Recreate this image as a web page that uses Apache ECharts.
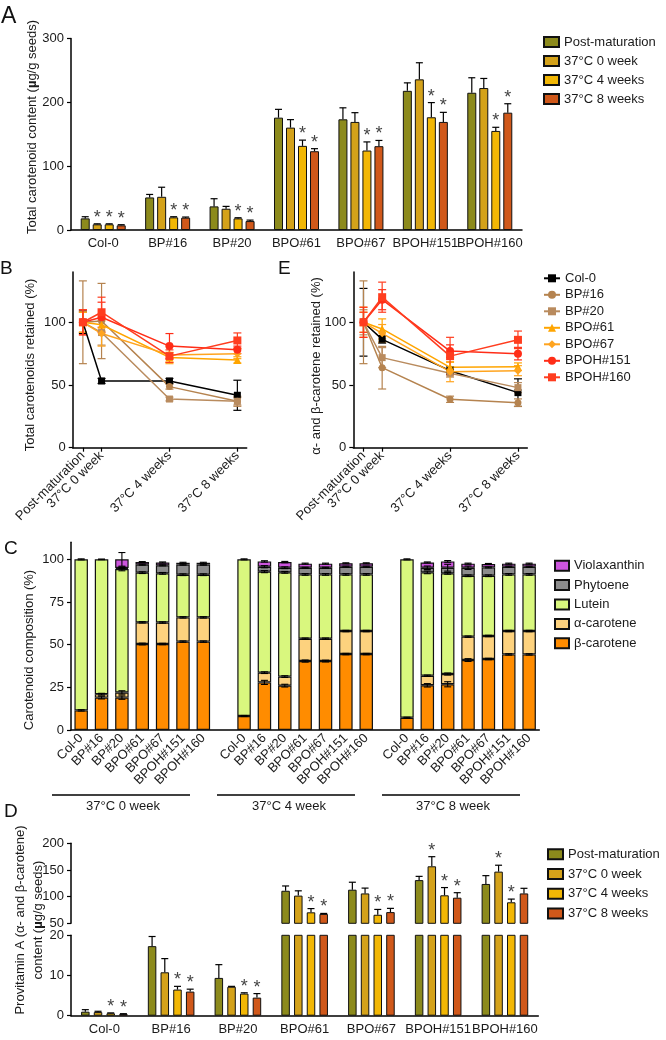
<!DOCTYPE html>
<html><head><meta charset="utf-8">
<script src="https://cdn.jsdelivr.net/npm/echarts@6/dist/echarts.min.js"></script>
<style>html,body{margin:0;padding:0;background:#fff}#c{width:666px;height:1040px}</style>
</head><body><div id="c"></div>
<script>
const FONT = '"Liberation Sans", Arial, Helvetica, sans-serif';

// ---------- shared categories ----------
const genotypes = ['Col-0','BP#16','BP#20','BPO#61','BPO#67','BPOH#151','BPOH#160'];
const conditions = ['Post-maturation','37°C 0 week','37°C 4 weeks','37°C 8 weeks'];
const condColors = ['#8c8a1c','#d4a21a','#f2b705','#d0581a'];

// ---------- Panel A: total carotenoid content (µg/g seeds), rows = conditions ----------
const totalContent = [
  [18.2, 51, 37, 176, 173.4, 218, 215],
  [8.9, 52, 33.3, 160.4, 169.3, 236, 222.4],
  [8.9, 19.8, 18.2, 131.8, 124.5, 176.6, 155.2],
  [7.3, 19.3, 14, 123.4, 131.3, 169.3, 183.8]
];
const totalContentErr = [
  [2.6, 4.7, 12, 13, 18, 12.5, 23.5],
  [0.8, 15, 3.7, 12.5, 14.5, 26, 15],
  [0.8, 1, 1, 9, 13.5, 23, 5.7],
  [1, 1, 1.5, 4, 9, 15, 14]
];
const totalContentStars = [
  [0,0,0,0,0,0,0],
  [1,0,0,0,0,0,0],
  [1,1,1,1,1,1,1],
  [1,1,1,1,1,1,1]
];

// ---------- Panels B / E: % retained, rows = genotypes ----------
const timeLabels = ['Post-maturation','37°C 0 week','37°C 4 weeks','37°C 8 weeks'];
const timeWeeks = [-1.1, 0, 4, 8];
const totalRetained = [
  [100, 53.2, 53.2, 41.8],
  [100, 101, 48.7, 37],
  [100, 91.8, 38.8, 37],
  [100, 98, 72, 70],
  [100, 91, 74, 75],
  [100, 104, 81, 78],
  [100, 108, 73, 85.5]
];
const totalRetainedErr = [
  [9, 2, 2, 12],
  [33, 30, 2, 4],
  [8, 10, 1.5, 3],
  [8, 5, 4, 2.5],
  [8, 10, 7, 4],
  [10, 12, 10, 3],
  [10, 12, 5, 6]
];
const provARetained = [
  [100, 86.4, 61.4, 43.9],
  [100, 63.8, 38.6, 35.9],
  [100, 71.8, 59.3, 47.9],
  [100, 94.7, 64.1, 64.6],
  [100, 91.2, 60.6, 61.4],
  [100, 118, 77, 75],
  [100, 120, 73, 86]
];
const provARetainedErr = [
  [27, 3, 3, 11],
  [33, 17, 2.5, 3],
  [10, 8, 3, 4],
  [8, 8, 4, 3],
  [12, 7, 8, 4],
  [12, 8, 5, 5],
  [8, 12, 15, 7]
];
const genoColors = ['#000000','#b5834f','#b98b5e','#ffa500','#ffa41f','#ff2d17','#ff3d1f'];
const genoSymbols = ['rect','circle','rect','triangle','diamond','circle','rect'];

// ---------- Panel C: composition (%) ----------
const cCategories = ['Col-0','BP#16','BP#20','BPO#61','BPO#67','BPOH#151','BPOH#160','',
                     'Col-0','BP#16','BP#20','BPO#61','BPO#67','BPOH#151','BPOH#160','',
                     'Col-0','BP#16','BP#20','BPO#61','BPO#67','BPOH#151','BPOH#160'];
const pigments = ['β-carotene','α-carotene','Lutein','Phytoene','Violaxanthin'];
const pigmentColors = ['#ff8c00','#fdd27e','#d9f77e','#8c8c8c','#cc55dd'];
const betaCarotene = [11.5,19,19,50.4,50.4,51.8,51.8,0, 8.2,27.9,26,40.4,40.4,44.5,44.5,0, 7.2,26.2,26.8,41,41.6,44.3,44.3];
const alphaCarotene = [0,2,3,12.7,12.6,14.2,14.2,0, 0,5.7,5.3,13.1,13.1,13.5,13.5,0, 0,5.6,6.0,13.7,13.5,13.7,13.7];
const lutein = [88.5,79,72.3,29.1,28.8,25,25,0, 91.8,59.2,61.1,37.7,37.7,33.2,33.2,0, 92.8,60.6,59,35.7,35.3,33.2,33.2];
const phytoene = [0,0,0.7,4.7,4.7,5.9,5.9,0, 0,2.9,2.7,3.9,3.9,4.5,4.5,0, 0,2.7,3.3,4.7,4.9,4.5,4.5];
const violaxanthin = [0,0,5,1.5,1.7,1.1,1.1,0, 0,3.1,3.3,2.4,2.4,2.0,2.0,0, 0,3.1,3.7,2.4,2.0,1.8,1.8];
const betaErr = [0.4,0.8,1,0.5,0.4,0.4,0.4,0, 0.3,1.2,0.8,0.6,0.5,0.4,0.4,0, 0.3,1.0,1.5,0.8,0.4,0.4,0.4];
const alphaErr = [0,0.5,1,0.4,0.4,0.4,0.4,0, 0,0.5,0.5,0.4,0.4,0.4,0.4,0, 0,0.4,0.6,0.4,0.4,0.4,0.4];
const luteinErr = [0.3,0.2,1,0.5,0.5,0.5,0.5,0, 0.3,0.6,0.5,0.5,0.5,0.5,0.5,0, 0.3,0.8,0.5,0.5,0.5,0.5,0.5];
const phytoeneErr = [0,0,0.4,0.3,0.3,0.3,0.3,0, 0,0.6,0.5,0.3,0.3,0.3,0.3,0, 0,1,2,1,0.3,0.3,0.3];
const violaxanthinErr = [0,0,4,0.3,0.3,0.3,0.3,0, 0,0.4,0.4,0.3,0.3,0.3,0.3,0, 0,0.3,0.5,0.3,0.3,0.3,0.3];
const cGroupLabels = ['37°C 0 week','37°C 4 week','37°C 8 week'];

// ---------- Panel D: provitamin A content (µg/g seeds), rows = conditions ----------
const provA = [
  [1.0, 17.3, 9.4, 111, 113, 131, 123.75],
  [0.9, 10.8, 7.2, 101.9, 106, 156.9, 146.9],
  [0.6, 6.5, 5.5, 70.6, 66, 102.5, 89.4],
  [0.4, 6.0, 4.5, 67.5, 71, 98, 106]
];
const provAErr = [
  [0.5, 2.4, 3.3, 9, 14, 7, 15.6],
  [0.2, 3.4, 0.1, 9, 10, 18, 12],
  [0.1, 0.8, 0.2, 7, 10, 14.5, 6],
  [0.1, 0.6, 1.0, 1, 7, 9.4, 9.6]
];
const provAStars = [
  [0,0,0,0,0,0,0],
  [0,0,0,0,0,1,1],
  [1,1,1,1,1,1,1],
  [1,1,1,1,1,1,0]
];

// ---------- helpers ----------
const TXT = '#1a1a1a';
function valAxis(grid, extra) {
  return Object.assign({
    type: 'value', gridIndex: grid,
    axisLine: { show: true, onZero: false, lineStyle: { color: '#000', width: 1.5 } },
    axisTick: { show: true, length: 4, lineStyle: { color: '#000', width: 1.2 } },
    axisLabel: { color: TXT, fontSize: 13, fontFamily: FONT, margin: 7 },
    splitLine: { show: false }
  }, extra);
}
function catAxis(grid, data, extra) {
  return Object.assign({
    type: 'category', gridIndex: grid, data: data,
    axisLine: { show: true, onZero: false, lineStyle: { color: '#000', width: 1.5 } },
    axisTick: { show: false },
    axisLabel: { color: TXT, fontSize: 13, fontFamily: FONT, interval: 0, margin: 7 },
    splitLine: { show: false }
  }, extra);
}
function barErrRender(offset, lo, hi) {
  return function (params, api) {
    const ci = api.value(0), v = api.value(1), e = api.value(2), s = api.value(3);
    if (v < lo || v > hi) return null;
    const base = api.coord([ci, v]);
    const top = api.coord([ci, v + e]);
    const x = base[0] + offset;
    const ch = [];
    if (e > 0) {
      ch.push({ type: 'line', shape: { x1: x, y1: base[1], x2: x, y2: top[1] }, style: { stroke: '#000', lineWidth: 1.2 } });
      ch.push({ type: 'line', shape: { x1: x - 3.5, y1: top[1], x2: x + 3.5, y2: top[1] }, style: { stroke: '#000', lineWidth: 1.2 } });
    }
    if (s) {
      ch.push({ type: 'text', style: { text: '*', x: x, y: top[1] + 3, align: 'center', verticalAlign: 'bottom', font: '18px ' + FONT, fill: '#444' } });
    }
    return { type: 'group', children: ch };
  };
}
function lineErrRender(params, api) {
  const x = api.value(0), y = api.value(1), e = api.value(2), idx = api.value(3);
  const lo = api.coord([x, y - e]), hi = api.coord([x, y + e]);
  const col = genoColors[idx];
  return { type: 'group', children: [
    { type: 'line', shape: { x1: lo[0], y1: lo[1], x2: hi[0], y2: hi[1] }, style: { stroke: col, lineWidth: 1.2 } },
    { type: 'line', shape: { x1: lo[0] - 4, y1: lo[1], x2: lo[0] + 4, y2: lo[1] }, style: { stroke: col, lineWidth: 1.2 } },
    { type: 'line', shape: { x1: hi[0] - 4, y1: hi[1], x2: hi[0] + 4, y2: hi[1] }, style: { stroke: col, lineWidth: 1.2 } }
  ] };
}
function stackErrRender(params, api) {
  const ci = api.value(0), v = api.value(1), e = api.value(2);
  const lo = api.coord([ci, v - e]), hi = api.coord([ci, v + e]);
  const x = lo[0];
  return { type: 'group', children: [
    { type: 'line', shape: { x1: x, y1: lo[1], x2: x, y2: hi[1] }, style: { stroke: '#000', lineWidth: 1.1 } },
    { type: 'line', shape: { x1: x - 3.5, y1: lo[1], x2: x + 3.5, y2: lo[1] }, style: { stroke: '#000', lineWidth: 1.1 } },
    { type: 'line', shape: { x1: x - 3.5, y1: hi[1], x2: x + 3.5, y2: hi[1] }, style: { stroke: '#000', lineWidth: 1.1 } }
  ] };
}
function timeFormatter(v) {
  const i = timeWeeks.findIndex(w => Math.abs(w - v) < 1e-6);
  return i >= 0 ? timeLabels[i] : '';
}

// ---------- series ----------
const series = [];
// A bars
const A_BW = 9, A_GAP = 3;
conditions.forEach((c, k) => {
  series.push({ type: 'bar', name: c, xAxisIndex: 0, yAxisIndex: 0, data: totalContent[k],
    barWidth: A_BW, barGap: (A_GAP / A_BW * 100) + '%',
    itemStyle: { color: condColors[k], borderColor: '#111', borderWidth: 1 } });
});
conditions.forEach((c, k) => {
  series.push({ type: 'custom', xAxisIndex: 0, yAxisIndex: 0, z: 5,
    renderItem: barErrRender((k - 1.5) * (A_BW + A_GAP), -Infinity, Infinity),
    encode: { x: 0, y: 1 },
    data: genotypes.map((g, i) => [i, totalContent[k][i], totalContentErr[k][i], totalContentStars[k][i]]) });
});
// B and E lines
[[1, totalRetained, totalRetainedErr], [2, provARetained, provARetainedErr]].forEach(([ax, vals, errs]) => {
  const errData = [];
  genotypes.forEach((g, i) => {
    timeWeeks.forEach((w, j) => errData.push([w, vals[i][j], errs[i][j], i]));
  });
  series.push({ type: 'custom', xAxisIndex: ax, yAxisIndex: ax, z: 2, renderItem: lineErrRender,
    encode: { x: 0, y: 1 }, data: errData });
  genotypes.forEach((g, i) => {
    series.push({ type: 'line', name: g, xAxisIndex: ax, yAxisIndex: ax, z: 3,
      data: timeWeeks.map((w, j) => [w, vals[i][j]]),
      symbol: genoSymbols[i], symbolSize: genoSymbols[i] === 'triangle' || genoSymbols[i] === 'diamond' ? 8 : (i >= 5 ? 8 : 7),
      lineStyle: { color: genoColors[i], width: 1.5 }, itemStyle: { color: genoColors[i] } });
  });
});
// C stacked bars
const cSegs = [betaCarotene, alphaCarotene, lutein, phytoene, violaxanthin];
const cErrs = [betaErr, alphaErr, luteinErr, phytoeneErr, violaxanthinErr];
pigments.forEach((p, k) => {
  series.push({ type: 'bar', name: p, stack: 'comp', xAxisIndex: 3, yAxisIndex: 3,
    data: cSegs[k].map(v => v > 0 ? v : null), barWidth: 13.5,
    itemStyle: { color: pigmentColors[k], borderColor: '#111', borderWidth: 1.2 } });
});
const cErrData = [];
cCategories.forEach((c, i) => {
  if (!c) return;
  let cum = 0;
  cSegs.forEach((seg, k) => {
    const v = seg[i];
    if (!(v > 0)) return;
    cum += v;
    const e = cErrs[k][i];
    if (e > 0) cErrData.push([i, cum, e]);
  });
});
series.push({ type: 'custom', xAxisIndex: 3, yAxisIndex: 3, z: 5, renderItem: stackErrRender, encode: { x: 0, y: 1 }, data: cErrData });
// D bars (broken axis: upper grid 4, lower grid 5)
const D_BW = 8.5, D_GAP = 4.2;
[[4, 50, Infinity], [5, -Infinity, 20]].forEach(([ax, lo, hi]) => {
  conditions.forEach((c, k) => {
    series.push({ type: 'bar', name: c, xAxisIndex: ax, yAxisIndex: ax,
      data: provA[k].map(v => (ax === 4 && v < 50) ? null : v),
      barWidth: D_BW, barGap: (D_GAP / D_BW * 100) + '%', clip: true,
      itemStyle: { color: condColors[k], borderColor: '#111', borderWidth: 1 } });
  });
  conditions.forEach((c, k) => {
    series.push({ type: 'custom', xAxisIndex: ax, yAxisIndex: ax, z: 5,
      renderItem: barErrRender((k - 1.5) * (D_BW + D_GAP), lo, hi), encode: { x: 0, y: 1 },
      data: genotypes.map((g, i) => [i, provA[k][i], provAErr[k][i], provAStars[k][i]]) });
  });
});

// ---------- graphics (panel letters, axis titles, group brackets) ----------
const graphic = [];
function letter(t, x, y, size) {
  graphic.push({ type: 'text', x: x, y: y, style: { text: t, font: size + 'px ' + FONT, fill: '#111', align: 'left', verticalAlign: 'middle' } });
}
letter('A', 1, 17, 23); letter('B', 0, 269, 19); letter('E', 278, 269, 19); letter('C', 4, 549, 19); letter('D', 4, 812, 19);
function yTitle(t, x, y) {
  graphic.push({ type: 'text', x: x, y: y, rotation: Math.PI / 2,
    style: { text: t, font: '13px ' + FONT, fill: TXT, align: 'center', verticalAlign: 'middle', lineHeight: 18,
      rich: { b: { fontWeight: 'bold', fontSize: 13, fontFamily: FONT, fill: TXT } } } });
}
yTitle('Total carotenoid content ({b|µ}g/g seeds)', 32.5, 127);
yTitle('Total carotenoids retained (%)', 30, 365);
yTitle('α- and β-carotene retained (%)', 316.5, 366);
yTitle('Carotenoid composition (%)', 29.5, 650);
yTitle('Provitamin A (α- and β-carotene)\ncontent ({b|µ}g/g seeds)', 29, 920);
[[52, 190, 123], [217, 355, 289], [382, 520, 453]].forEach(([x1, x2, xc], i) => {
  graphic.push({ type: 'line', shape: { x1: x1, y1: 795, x2: x2, y2: 795 }, style: { stroke: '#000', lineWidth: 1.5 } });
  graphic.push({ type: 'text', x: xc, y: 806, style: { text: cGroupLabels[i], font: '13px ' + FONT, fill: TXT, align: 'center', verticalAlign: 'middle' } });
});

const legendText = { color: TXT, fontSize: 13, fontFamily: FONT, lineHeight: 14 };
const option = {
  animation: false,
  backgroundColor: '#fff',
  grid: [
    { left: 71, top: 38.5, width: 451, height: 191.5, outerBoundsMode: 'none' },
    { left: 72.7, top: 272.1, width: 174, height: 175.6, outerBoundsMode: 'none' },
    { left: 353.3, top: 272.1, width: 174, height: 175.6, outerBoundsMode: 'none' },
    { left: 71, top: 542.3, width: 468.3, height: 187.7, outerBoundsMode: 'none' },
    { left: 71, top: 843.3, width: 467.3, height: 80, outerBoundsMode: 'none' },
    { left: 71, top: 935.3, width: 467.3, height: 80.4, outerBoundsMode: 'none' }
  ],
  xAxis: [
    catAxis(0, genotypes),
    valAxis(1, { min: -1.7, max: 8.55, axisTick: { show: true, length: 4, customValues: timeWeeks, lineStyle: { color: '#000', width: 1.2 } },
      axisLabel: { color: TXT, fontSize: 13, fontFamily: FONT, rotate: 45, margin: 6, customValues: timeWeeks, formatter: timeFormatter } }),
    valAxis(2, { min: -1.7, max: 8.55, axisTick: { show: true, length: 4, customValues: timeWeeks, lineStyle: { color: '#000', width: 1.2 } },
      axisLabel: { color: TXT, fontSize: 13, fontFamily: FONT, rotate: 45, margin: 6, customValues: timeWeeks, formatter: timeFormatter } }),
    catAxis(3, cCategories, { axisLabel: { color: TXT, fontSize: 13, fontFamily: FONT, interval: 0, rotate: 45, margin: 6 } }),
    catAxis(4, genotypes, { show: false }),
    catAxis(5, genotypes)
  ],
  yAxis: [
    valAxis(0, { min: 0, max: 300, interval: 100 }),
    valAxis(1, { min: 0, max: 140, axisTick: { show: true, length: 4, customValues: [0, 50, 100], lineStyle: { color: '#000', width: 1.2 } },
      axisLabel: { color: TXT, fontSize: 13, fontFamily: FONT, margin: 7, customValues: [0, 50, 100] } }),
    valAxis(2, { min: 0, max: 140, axisTick: { show: true, length: 4, customValues: [0, 50, 100], lineStyle: { color: '#000', width: 1.2 } },
      axisLabel: { color: TXT, fontSize: 13, fontFamily: FONT, margin: 7, customValues: [0, 50, 100] } }),
    valAxis(3, { min: 0, max: 110, axisTick: { show: true, length: 4, customValues: [0, 25, 50, 75, 100], lineStyle: { color: '#000', width: 1.2 } },
      axisLabel: { color: TXT, fontSize: 13, fontFamily: FONT, margin: 7, customValues: [0, 25, 50, 75, 100] } }),
    valAxis(4, { min: 50, max: 200, interval: 50 }),
    valAxis(5, { min: 0, max: 20, interval: 10 })
  ],
  legend: [
    { data: conditions, orient: 'vertical', left: 543, top: 35, padding: 0, itemGap: 5, itemWidth: 15, itemHeight: 10, icon: 'rect', textStyle: legendText, selectedMode: false },
    { data: genotypes, orient: 'vertical', left: 543, top: 271.3, padding: 0, itemGap: 2.5, itemWidth: 16, itemHeight: 10, textStyle: legendText, selectedMode: false },
    { data: pigments.slice().reverse(), orient: 'vertical', left: 554, top: 558.7, padding: 0, itemGap: 5.4, itemWidth: 14, itemHeight: 10, icon: 'rect', textStyle: legendText, selectedMode: false },
    { data: conditions, orient: 'vertical', left: 547, top: 847.3, padding: 0, itemGap: 5.7, itemWidth: 15, itemHeight: 10, icon: 'rect', textStyle: legendText, selectedMode: false }
  ],
  graphic: graphic,
  series: series
};
const chart = echarts.init(document.getElementById('c'));
chart.setOption(option);
</script></body></html>
